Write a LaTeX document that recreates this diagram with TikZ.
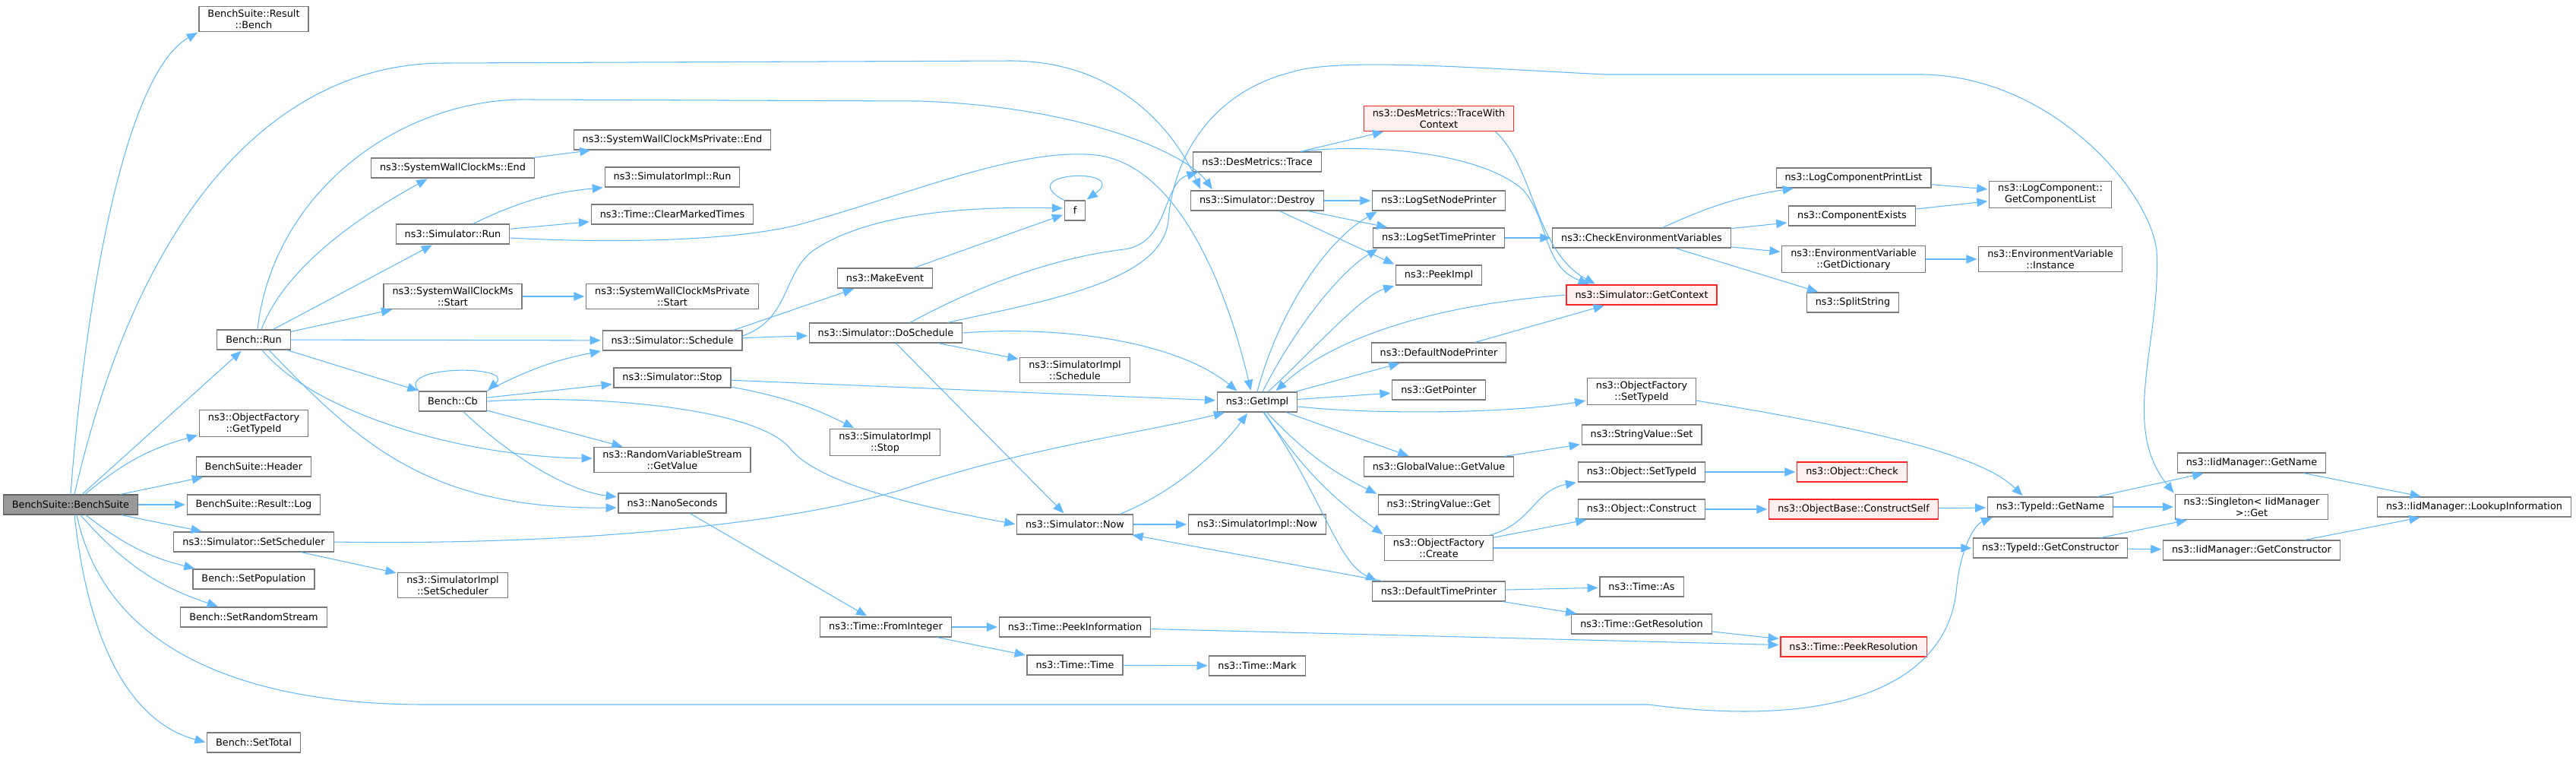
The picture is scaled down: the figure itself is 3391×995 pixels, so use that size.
\documentclass[tikz,border=0pt]{standalone}
\usepackage{fontspec}
\setmainfont{DejaVu Sans}
\usetikzlibrary{arrows.meta,calc}
\definecolor{callblue}{HTML}{63B8FF}
\definecolor{boxgray}{HTML}{7A7A7A}
\definecolor{rootgray}{HTML}{999999}
\definecolor{truncfill}{HTML}{FFF0F0}

\begin{document}
\begin{tikzpicture}[shorten >=1pt,->,>={Triangle[length=8pt,width=6.5pt]},x=0.02cm,y=-0.02cm]
        \tikzstyle{func}=[rectangle,draw=boxgray,fill=white,line width=0.65pt,inner xsep=0.23cm,inner ysep=0.08cm,minimum height=0.52cm,align=center,font=\fontsize{7.3}{8.5}\selectfont]
        \tikzstyle{rootfunc}=[func,fill=rootgray,draw=boxgray!80!black]
        \tikzstyle{truncfunc}=[func,draw=red!85!white,fill=truncfill]
        \tikzstyle{edge}=[color=callblue,draw=callblue,line width=0.6pt]

        \useasboundingbox (0,0) rectangle (3391,995);

        % column 0 and 1
        \node [rootfunc] (root) at (93,664) {BenchSuite::BenchSuite};
        \node [func] (rbench) at (334,25) {BenchSuite::Result\\::Bench};
        \node [func] (run) at (334,447) {Bench::Run};
        \node [func] (tfid) at (334,557) {ns3::ObjectFactory\\::GetTypeId};
        \node [func] (hdr) at (334,614) {BenchSuite::Header};
        \node [func] (rlog) at (334,664) {BenchSuite::Result::Log};
        \node [func] (setsch) at (334,713) {ns3::Simulator::SetScheduler};
        \node [func] (setpop) at (334,762) {Bench::SetPopulation};
        \node [func] (setrs) at (334,812) {Bench::SetRandomStream};
        \node [func] (settot) at (334,977) {Bench::SetTotal};

        % column 2 and 3
        \node [func] (wcend) at (596,221) {ns3::SystemWallClockMs::End};
        \node [func] (simrun) at (596,308) {ns3::Simulator::Run};
        \node [func] (wcstart) at (596,390) {ns3::SystemWallClockMs\\::Start};
        \node [func] (cb) at (596,528) {Bench::Cb};
        \node [func] (implsetsch) at (596,770) {ns3::SimulatorImpl\\::SetScheduler};
        \node [func] (wcpend) at (885,184) {ns3::SystemWallClockMsPrivate::End};
        \node [func] (implrun) at (885,233) {ns3::SimulatorImpl::Run};
        \node [func] (clearmt) at (885,282) {ns3::Time::ClearMarkedTimes};
        \node [func] (wcpstart) at (885,390) {ns3::SystemWallClockMsPrivate\\::Start};
        \node [func] (sched) at (885,448) {ns3::Simulator::Schedule};
        \node [func] (stop) at (885,497) {ns3::Simulator::Stop};
        \node [func] (getval) at (885,605) {ns3::RandomVariableStream\\::GetValue};
        \node [func] (nano) at (885,662) {ns3::NanoSeconds};

        % column 4 and 5
        \node [func] (mkev) at (1165,366) {ns3::MakeEvent};
        \node [func] (dosch) at (1166,438) {ns3::Simulator::DoSchedule};
        \node [func] (implstop) at (1165,582) {ns3::SimulatorImpl\\::Stop};
        \node [func] (fromint) at (1166,825) {ns3::Time::FromInteger};
        \node [func] (f) at (1415,277) {f};
        \node [func] (implsch) at (1415,487) {ns3::SimulatorImpl\\::Schedule};
        \node [func] (now) at (1415,690) {ns3::Simulator::Now};
        \node [func] (peekinfo) at (1415,825) {ns3::Time::PeekInformation};
        \node [func] (ttime) at (1415,875) {ns3::Time::Time};

        % column 6 and 7
        \node [func] (trace) at (1655,213) {ns3::DesMetrics::Trace};
        \node [func] (destroy) at (1655,264) {ns3::Simulator::Destroy};
        \node [func] (getimpl) at (1655,529) {ns3::GetImpl};
        \node [func] (implnow) at (1655,690) {ns3::SimulatorImpl::Now};
        \node [func] (mark) at (1655,876) {ns3::Time::Mark};
        \node [truncfunc] (twc) at (1894,156) {ns3::DesMetrics::TraceWith\\Context};
        \node [func] (lsnp) at (1894,264) {ns3::LogSetNodePrinter};
        \node [func] (lstp) at (1894,313) {ns3::LogSetTimePrinter};
        \node [func] (peek) at (1894,362) {ns3::PeekImpl};
        \node [func] (dnp) at (1894,464) {ns3::DefaultNodePrinter};
        \node [func] (getptr) at (1894,513) {ns3::GetPointer};
        \node [func] (gvget) at (1894,614) {ns3::GlobalValue::GetValue};
        \node [func] (svget) at (1894,664) {ns3::StringValue::Get};
        \node [func] (ofcreate) at (1894,721) {ns3::ObjectFactory\\::Create};
        \node [func] (dtp) at (1894,778) {ns3::DefaultTimePrinter};

        % column 8 and 9
        \node [func] (checkenv) at (2161,313) {ns3::CheckEnvironmentVariables};
        \node [truncfunc] (getctx) at (2161,388) {ns3::Simulator::GetContext};
        \node [func] (ofsettid) at (2161,515) {ns3::ObjectFactory\\::SetTypeId};
        \node [func] (svset) at (2161,572) {ns3::StringValue::Set};
        \node [func] (osettid) at (2161,621) {ns3::Object::SetTypeId};
        \node [func] (oconstr) at (2161,670) {ns3::Object::Construct};
        \node [func] (tas) at (2161,772) {ns3::Time::As};
        \node [func] (getres) at (2161,821) {ns3::Time::GetResolution};
        \node [func] (lcpl) at (2440,234) {ns3::LogComponentPrintList};
        \node [func] (cexists) at (2438,284) {ns3::ComponentExists};
        \node [func] (getdict) at (2440,341) {ns3::EnvironmentVariable\\::GetDictionary};
        \node [func] (split) at (2439,398) {ns3::SplitString};
        \node [truncfunc] (ocheck) at (2438,621) {ns3::Object::Check};
        \node [truncfunc] (constrself) at (2440,670) {ns3::ObjectBase::ConstructSelf};
        \node [truncfunc] (peekres) at (2440,851) {ns3::Time::PeekResolution};

        % column 10 to 12
        \node [func] (gcl) at (2699,256) {ns3::LogComponent::\\GetComponentList};
        \node [func] (evinst) at (2699,341) {ns3::EnvironmentVariable\\::Instance};
        \node [func] (tgetname) at (2699,667) {ns3::TypeId::GetName};
        \node [func] (tgetctor) at (2699,721) {ns3::TypeId::GetConstructor};
        \node [func] (iidgetname) at (2964,609) {ns3::IidManager::GetName};
        \node [func] (singleton) at (2964,667) {ns3::Singleton< IidManager\\ >::Get};
        \node [func] (iidgetctor) at (2964,724) {ns3::IidManager::GetConstructor};
        \node [func] (lookup) at (3257,667) {ns3::IidManager::LookupInformation};

        % BenchSuite::BenchSuite
        \draw[edge] (root.north) .. controls (110,420) and (160,100) .. (rbench.south west);
        \draw[edge] ($(root.north)+(5,0)$) .. controls (190,250) and (380,83) .. (585,83) -- (1330,80) .. controls (1470,80) and (1545,170) .. ($(destroy.north west)+(14,0)$);
        \path[edge] (root) edge (run) edge (hdr) edge (rlog) edge (setsch);
        \draw[edge] (root) to[bend left=12] (tfid);
        \draw[edge] (root) to[bend right=12] (setpop);
        \draw[edge] (root) to[bend right=15] (setrs);
        \draw[edge] ($(root.south)+(5,0)$) .. controls (120,880) and (190,955) .. (settot.west);
        \draw[edge] ($(root.south)+(8,0)$) .. controls (140,860) and (330,927) .. (560,927) -- (2170,927) .. controls (2420,960) and (2560,900) .. (2575,780) .. controls (2580,720) and (2600,690) .. ($(tgetname.south west)+(8,0)$);

        % Bench::Run
        \draw[edge] ($(run.north)+(5,0)$) .. controls (360,250) and (530,127) .. (700,131) -- (1210,133) .. controls (1420,140) and (1560,200) .. ($(destroy.north west)+(30,0)$);
        \draw[edge] ($(run.north)+(10,0)$) .. controls (380,340) and (500,270) .. ($(wcend.south)+(-32,0)$);
        \path[edge] (run) edge (simrun) edge (wcstart) edge (sched) edge (cb);
        \draw[edge] (run) .. controls (410,540) and (600,600) .. (getval);
        \draw[edge] ($(run.south)+(20,0)$) .. controls (470,580) and (560,670) .. ($(nano.west)+(0,6)$);

        % Bench::Cb
        \draw[edge] (cb.north west) .. controls (520,480) and (680,480) .. (cb.north east);
        \draw[edge] (cb.north east) to[bend left=8] (sched.south west);
        \path[edge] (cb) edge (stop) edge (getval);
        \draw[edge] (cb.east) .. controls (800,518) and (1000,540) .. (1040,590) .. controls (1080,640) and (1230,670) .. (now.west);
        \draw[edge] (cb) .. controls (660,590) and (740,645) .. ($(nano.west)+(0,-8)$);

        % ns3::Simulator::Run and the wall clock
        \draw[edge] (simrun) to[bend left=10] (implrun.south west);
        \draw[edge] (simrun) -- (clearmt);
        \draw[edge] ($(simrun.east)+(0,5)$) .. controls (800,320) and (960,318) .. (1050,296) .. controls (1200,255) and (1350,190) .. (1450,205) .. controls (1560,225) and (1620,400) .. ($(getimpl.north)+(-8,0)$);
        \draw[edge] (wcend) -- (wcpend);
        \draw[edge] (wcstart) -- (wcpstart);

        % ns3::Simulator::Schedule
        \draw[edge] ($(sched.north east)+(-12,0)$) -- (mkev);
        \draw[edge] ($(sched.east)+(0,-6)$) .. controls (1040,420) and (1030,360) .. (1070,330) .. controls (1150,275) and (1300,272) .. ($(f.west)+(0,-3)$);
        \draw[edge] (sched) -- (dosch);
        \draw[edge] (mkev) -- (f);
        \draw[edge] (f.north west) .. controls (1330,225) and (1490,220) .. (f.north east);

        % ns3::Simulator::DoSchedule
        \draw[edge] ($(dosch.north)+(32,0)$) .. controls (1280,380) and (1380,340) .. (1480,328) .. controls (1540,320) and (1530,240) .. ($(trace.south west)+(8,0)$);
        \draw[edge] ($(dosch.north east)+(-20,0)$) .. controls (1380,395) and (1530,370) .. (1538,290) .. controls (1545,200) and (1600,120) .. (1700,95) .. controls (1760,75) and (1950,90) .. (2114,98) -- (2530,98) .. controls (2700,100) and (2830,250) .. (2839,330) .. controls (2845,450) and (2790,560) .. (singleton.north west);
        \draw[edge] (dosch.east) .. controls (1400,428) and (1550,450) .. ($(getimpl.north west)+(28,0)$);
        \path[edge] (dosch) edge (implsch) edge (now);

        % ns3::Simulator::Stop, SetScheduler, Now
        \draw[edge] (stop) to[bend left=8] (implstop);
        \draw[edge] (stop) -- (getimpl);
        \draw[edge] (nano) -- (fromint);
        \draw[edge] (setsch) -- (implsetsch);
        \draw[edge] (setsch.east) .. controls (750,718) and (1050,690) .. (1200,640) .. controls (1350,590) and (1500,570) .. ($(getimpl.south west)+(12,0)$);
        \draw[edge] (now) -- (implnow);
        \draw[edge] ($(now.north east)+(-18,0)$) .. controls (1540,650) and (1600,600) .. ($(getimpl.south)+(-12,0)$);

        % ns3::Time
        \path[edge] (fromint) edge (peekinfo) edge (ttime);
        \draw[edge] (ttime) -- (mark);
        \draw[edge] (peekinfo) -- (peekres);

        % ns3::DesMetrics and ns3::Simulator::Destroy
        \draw[edge] (trace) -- (twc);
        \draw[edge] ($(trace.north east)+(-28,0)$) .. controls (1800,188) and (1950,200) .. (2005,250) .. controls (2040,290) and (2030,350) .. ($(getctx.north west)+(32,0)$);
        \draw[edge] ($(twc.south east)+(-25,0)$) .. controls (2020,220) and (2020,330) .. ($(getctx.north west)+(40,0)$);
        \path[edge] (destroy) edge (lsnp) edge (lstp);
        \draw[edge] (destroy) -- (peek.north west);

        % ns3::GetImpl
        \draw[edge] (getimpl.north) .. controls (1680,420) and (1740,320) .. ($(lsnp.south west)+(8,0)$);
        \draw[edge] ($(getimpl.north)+(7,0)$) .. controls (1700,440) and (1760,360) .. ($(lstp.south west)+(8,0)$);
        \draw[edge] ($(getimpl.north)+(14,0)$) .. controls (1720,470) and (1790,390) .. (peek.south west);
        \draw[edge] (getctx.west) .. controls (1900,400) and (1760,440) .. ($(getimpl.north east)+(-30,0)$);
        \path[edge] (getimpl) edge (dnp) edge (getptr) edge (gvget);
        \draw[edge] (getimpl) .. controls (1800,545) and (1980,545) .. (ofsettid);
        \draw[edge] (getimpl) to[bend right=10] (svget.north west);
        \draw[edge] (getimpl) to[bend right=10] (ofcreate.north west);
        \draw[edge] ($(getimpl.south)+(8,0)$) .. controls (1740,650) and (1760,740) .. ($(dtp.north west)+(8,0)$);
        \draw[edge] (dnp) -- (getctx);
        \path[edge] (dtp) edge (now) edge (tas) edge (getres);
        \draw[edge] (getres) -- (peekres);
        \draw[edge] (gvget) -- (svset);

        % ns3::CheckEnvironmentVariables
        \draw[edge] (lstp) -- (checkenv);
        \draw[edge] (checkenv) to[bend left=8] ($(lcpl.south west)+(25,0)$);
        \path[edge] (checkenv) edge (cexists) edge (getdict) edge (split);
        \path[edge] (lcpl) edge (gcl);
        \path[edge] (cexists) edge (gcl);
        \draw[edge] (getdict) -- (evinst);

        % ns3::ObjectFactory and ns3::TypeId
        \draw[edge] ($(ofcreate.north east)+(-5,0)$) .. controls (2015,690) and (2020,645) .. (osettid.south west);
        \path[edge] (ofcreate) edge (oconstr) edge (tgetctor);
        \draw[edge] (ofsettid) .. controls (2400,555) and (2600,590) .. ($(tgetname.north west)+(48,0)$);
        \draw[edge] (osettid) -- (ocheck);
        \draw[edge] (oconstr) -- (constrself);
        \draw[edge] (constrself) -- (tgetname);
        \path[edge] (tgetname) edge (iidgetname) edge (singleton);
        \path[edge] (tgetctor) edge (singleton) edge (iidgetctor);
        \path[edge] (iidgetname) edge (lookup);
        \path[edge] (iidgetctor) edge (lookup);
      \end{tikzpicture}
\end{document}
